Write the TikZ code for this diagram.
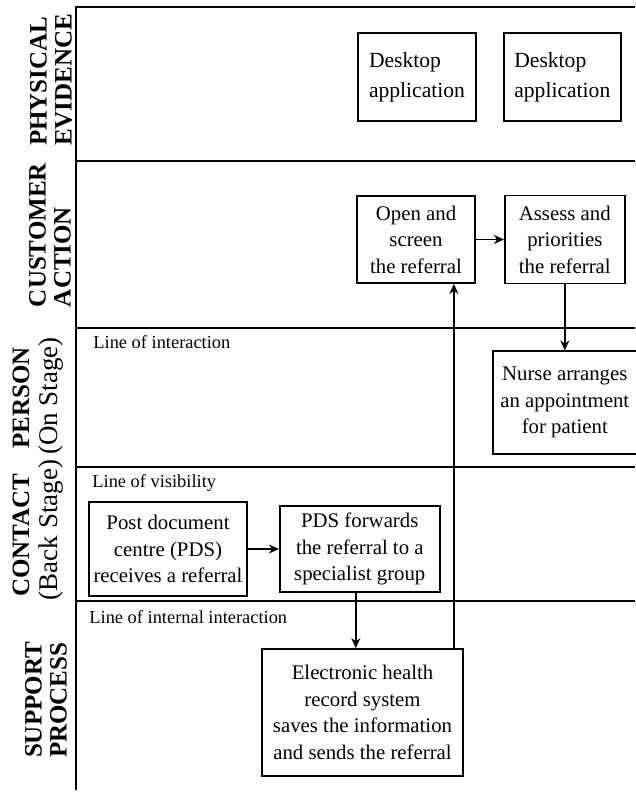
\documentclass[tikz,border=0pt]{standalone}
\usepackage{fontspec}
\setmainfont{Liberation Serif}
\usetikzlibrary{positioning}
\usetikzlibrary{arrows.meta}

\begin{document}
\begin{tikzpicture}[x=0.5pt,y=-0.5pt,
  box/.style={draw,line width=0.9pt,align=center,inner sep=0pt,font=\fontsize{10.4}{13.3}\selectfont},
  lane/.style={line width=0.8pt},
  lbl/.style={anchor=west,inner sep=0pt,font=\fontsize{9.2}{11}\selectfont},
  side/.style={rotate=90,align=left,inner sep=0pt,font=\fontsize{12.5}{12.5}\selectfont\bfseries},
  stage/.style={rotate=90,inner sep=0pt,font=\fontsize{13.5}{14}\selectfont},
  >={Stealth[length=5pt,width=4.5pt]}]
\useasboundingbox (0,0) rectangle (635,795);
\draw[lane] (76,790) -- (76,7) -- (635,7);
\foreach \y in {161,328,467,601} \draw[lane] (76,\y) -- (635,\y);

\node[side] (pe) at (51,80) {PHYSICAL\\EVIDENCE};
\node[side] (ca) at (50,235) {CUSTOMER\\ACTION};
\node[side] (cp) at (21,472) {CONTACT\quad PERSON};
\node[stage] (os) at (51,396) {(On Stage)};
\node[stage] (bs) at (51,530) {(Back Stage)};
\node[side] (sp) at (46,700) {SUPPORT\\PROCESS};

\node[lbl] (li) at (93,342) {Line of interaction};
\node[lbl] (lv) at (92,483) {Line of visibility};
\node[lbl] (ln) at (89,617) {Line of internal interaction};

\node[box,align=left,font=\fontsize{10.8}{15}\selectfont,minimum width=59pt,minimum height=44pt] (d1) at (417,77) {Desktop\\application};
\node[box,align=left,font=\fontsize{10.8}{15}\selectfont,minimum width=58.5pt,minimum height=44pt,right=13pt of d1] (d2) {Desktop\\application};
\node[box,minimum width=59pt,minimum height=43.5pt] (op) at (416,239.5) {Open and\\screen\\the referral};
\node[box,minimum width=60pt,minimum height=44pt,right=14pt of op] (as) {Assess and\\priorities\\the referral};
\node[box,minimum width=72pt,minimum height=51.5pt,below=33pt of as] (nu) {Nurse arranges\\an appointment\\for patient};
\node[box,minimum width=79pt,minimum height=47pt] (po) at (168,549) {Post document\\centre (PDS)\\receives a referral};
\node[box,minimum width=80pt,minimum height=43pt,right=15.5pt of po] (pf) {PDS forwards\\the referral to a\\specialist group};
\node[box,minimum width=100.5pt,minimum height=63.5pt] (eh) at (362.5,712.5) {Electronic health\\record system\\saves the information\\and sends the referral};

\draw[->,line width=0.75pt] (op) -- (as);
\draw[->,line width=0.75pt] (as) -- (nu);
\draw[->,line width=0.75pt] (po) -- (pf);
\draw[->,line width=0.75pt] ([xshift=-2pt]pf.south) -- ([xshift=-2pt]pf.south |- eh.north);
\draw[->,line width=0.75pt] ([xshift=-5pt]eh.north east) -- ([xshift=-5pt]eh.north east |- op.south);
\end{tikzpicture}
\end{document}
